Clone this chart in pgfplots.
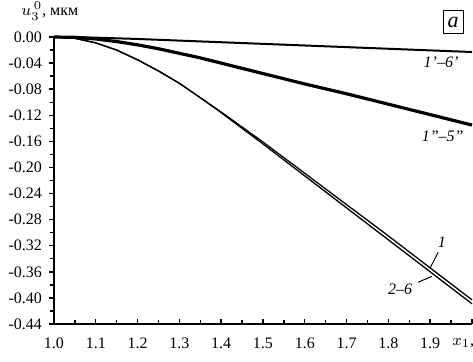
\documentclass[border=0pt]{standalone}
\usepackage{fontspec}
\setmainfont{Liberation Serif}
\usepackage{pgfplots}
\pgfplotsset{compat=1.18}

\pgfplotstableread{
x y
1.00 0
1.05 -0.0002
1.10 -0.001
1.20 -0.003
1.30 -0.0055
1.40 -0.008
1.50 -0.0105
1.60 -0.013
1.70 -0.0155
1.80 -0.018
1.90 -0.0205
2.00 -0.023
}\curveA

\pgfplotstableread{
x y
1.00 0
1.05 -0.0005
1.10 -0.003
1.15 -0.007
1.20 -0.012
1.25 -0.018
1.30 -0.025
1.35 -0.032
1.40 -0.040
1.50 -0.056
1.60 -0.072
1.70 -0.087
1.80 -0.103
1.90 -0.119
2.00 -0.135
}\curveB

\pgfplotstableread{
x y
1.00 0
1.05 -0.002
1.10 -0.009
1.15 -0.020
1.20 -0.035
1.25 -0.052
1.30 -0.071
1.35 -0.093
1.40 -0.115
1.45 -0.138
1.50 -0.161
1.60 -0.209
1.70 -0.257
1.80 -0.305
1.90 -0.354
2.00 -0.403
}\curveOne

\pgfplotstableread{
x y
1.00 0
1.05 -0.002
1.10 -0.009
1.15 -0.020
1.20 -0.035
1.25 -0.052
1.30 -0.071
1.35 -0.093
1.40 -0.116
1.45 -0.140
1.50 -0.164
1.60 -0.213
1.70 -0.262
1.80 -0.311
1.90 -0.360
2.00 -0.409
}\curveTwo

\begin{document}
\begin{tikzpicture}
\begin{axis}[
  scale only axis, width=209pt, height=143.5pt,
  xmin=1, xmax=2, ymin=-0.44, ymax=0,
  clip=false,
  axis x line=bottom, axis y line=left,
  axis line style={-, line width=0.8pt},
  xtick={1.0,1.1,1.2,1.3,1.4,1.5,1.6,1.7,1.8,1.9,2.0},
  xticklabels={1.0,1.1,1.2,1.3,1.4,1.5,1.6,1.7,1.8,1.9,},
  ytick={-0.44,-0.40,-0.36,-0.32,-0.28,-0.24,-0.20,-0.16,-0.12,-0.08,-0.04,0},
  minor x tick num=1, minor y tick num=1,
  tick align=outside,
  major tick length=2.5pt, minor tick length=2pt,
  every major x tick/.append style={yshift=2.5pt},
  every minor x tick/.append style={yshift=2pt},
  tick style={line width=0.7pt, black},
  ticklabel style={font=\fontsize{8}{9.6}\selectfont},
  yticklabel style={/pgf/number format/fixed, /pgf/number format/zerofill, /pgf/number format/precision=2},
  /pgf/number format/assume math mode=true,
  xticklabel style={yshift=-1pt},
]
\coordinate (O) at (rel axis cs:0,0);
\addplot[black, line width=1pt, line join=round] table {\curveA};
\addplot[black, line width=1.6pt, line join=round] table {\curveB};
\addplot[black, line width=0.65pt, line join=round] table {\curveOne};
\addplot[black, line width=0.65pt, line join=round] table {\curveTwo};

\node[font=\fontsize{8}{9.6}\selectfont\itshape] at (axis cs:1.926,-0.038) {1'--6'};
\node[font=\fontsize{8}{9.6}\selectfont\itshape] at (axis cs:1.93,-0.152) {1''--5''};
\node[font=\fontsize{8}{9.6}\selectfont\itshape] at (axis cs:1.928,-0.314) {1};
\node[font=\fontsize{8}{9.6}\selectfont\itshape] at (axis cs:1.828,-0.387) {2--6};
\draw[line width=0.5pt] (axis cs:1.919,-0.330) -- (axis cs:1.900,-0.354);
\draw[line width=0.5pt] (axis cs:1.871,-0.376) -- (axis cs:1.904,-0.367);

\node[font=\fontsize{8}{9.6}\selectfont, inner sep=0pt] at (axis cs:0.99,0.039) {$u_3^{\,0}$, мкм};
\node[draw, line width=0.6pt, font=\fontsize{11}{12}\selectfont\itshape,
      minimum width=10pt, minimum height=11.5pt, inner sep=1pt]
      at (axis cs:1.955,0.023) {a};
\node[anchor=west, inner sep=0pt, yshift=-9.5pt, font=\fontsize{8}{9.6}\selectfont] at (axis cs:1.952,-0.44) {$x_1$, мм};
\end{axis}
\pgfresetboundingbox
\useasboundingbox ([shift={(-27pt,-18.5pt)}]O) rectangle ([shift={(209.5pt,162pt)}]O);
\end{tikzpicture}
\end{document}
